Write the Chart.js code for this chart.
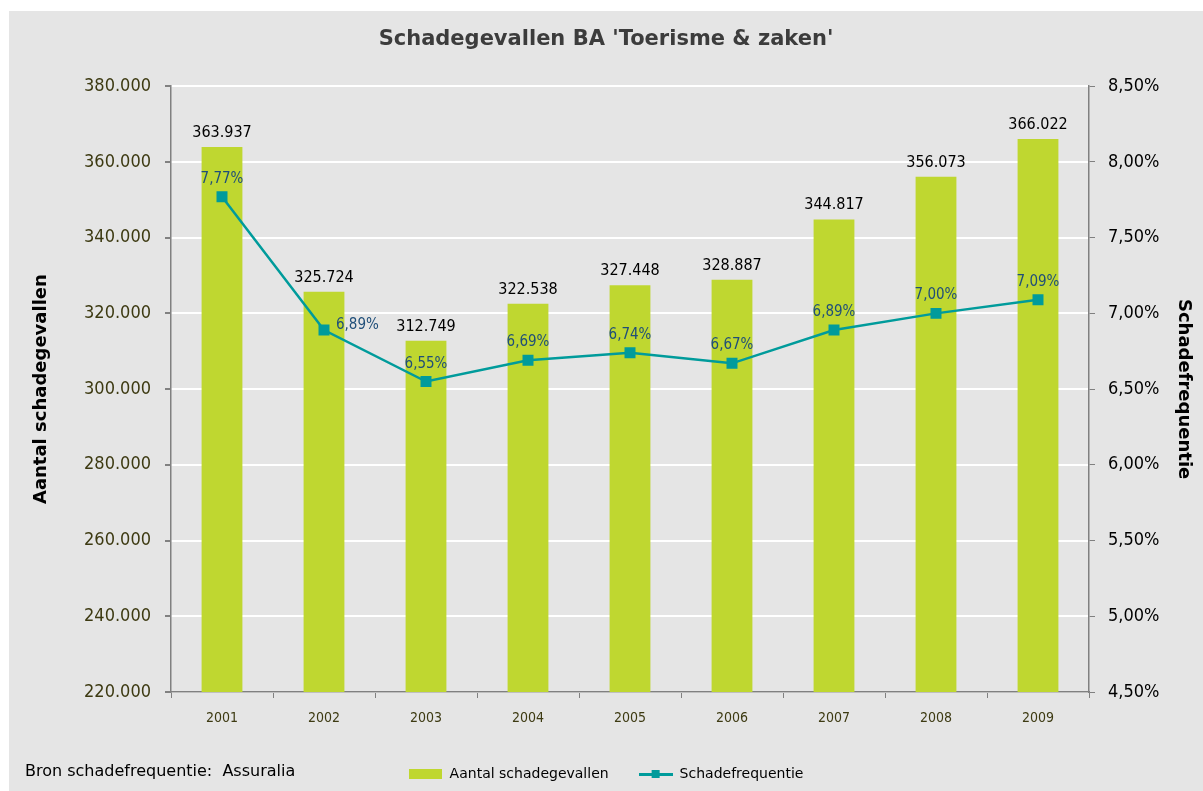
<!DOCTYPE html>
<html>
<head>
<meta charset="utf-8">
<script src="https://cdn.jsdelivr.net/npm/chart.js@4.4.1/dist/chart.umd.min.js"></script>
<style>
  body { margin: 0; background: #ffffff; }
  #wrap { position: absolute; left: 9px; top: 11px; width: 1194px; height: 780px; background: #e5e5e5; }
</style>
</head>
<body>
<div id="wrap"><canvas id="schadeChart" width="1194" height="780"></canvas></div>
<script>
// data
var jaren = ['2001', '2002', '2003', '2004', '2005', '2006', '2007', '2008', '2009'];
var aantalSchadegevallen = [363937, 325724, 312749, 322538, 327448, 328887, 344817, 356073, 366022];
var schadefrequentie = [7.77, 6.89, 6.55, 6.69, 6.74, 6.67, 6.89, 7.00, 7.09];

var fontFam = "'DejaVu Sans', sans-serif";
var smalFont = "'DejaVu Sans Condensed', 'DejaVu Sans', sans-serif";
var groen = '#bfd730';
var teal = '#009b9b';

// number helpers (dutch notation)
function fmtAantal(v) {
  return v.toLocaleString('nl-BE', { useGrouping: true });
}
function fmtPct(v) {
  return v.toFixed(2).replace('.', ',') + '%';
}

// small images for the legend
function legendBox() {
  var c = document.createElement('canvas');
  c.width = 33; c.height = 10;
  var x = c.getContext('2d');
  x.fillStyle = groen;
  x.fillRect(0, 0, 33, 10);
  return c;
}
function legendLine() {
  var c = document.createElement('canvas');
  c.width = 34; c.height = 10;
  var x = c.getContext('2d');
  x.fillStyle = teal;
  x.fillRect(0, 4, 34, 3);
  x.fillRect(13, 1, 8, 8);
  return c;
}

// draws the value labels on top of the bars and at the points
var labelPlugin = {
  id: 'waardeLabels',
  afterDatasetsDraw: function(chart) {
    var ctx = chart.ctx;
    ctx.save();
    // bars = dataset 1
    var barMeta = chart.getDatasetMeta(1);
    ctx.font = '16px ' + smalFont;
    ctx.fillStyle = '#000000';
    ctx.textAlign = 'center';
    ctx.textBaseline = 'alphabetic';
    barMeta.data.forEach(function(el, i) {
      ctx.fillText(fmtAantal(aantalSchadegevallen[i]), el.x, el.y - 10);
    });
    // line = dataset 0
    var lineMeta = chart.getDatasetMeta(0);
    ctx.font = '15px ' + smalFont;
    ctx.fillStyle = '#1f4e79';
    lineMeta.data.forEach(function(el, i) {
      if (i === 1) {
        ctx.textAlign = 'left';
        ctx.fillText(fmtPct(schadefrequentie[i]), el.x + 12, el.y - 1);
      } else {
        ctx.textAlign = 'center';
        ctx.fillText(fmtPct(schadefrequentie[i]), el.x, el.y - 14);
      }
    });
    // source note bottom left
    ctx.fillStyle = '#000000';
    ctx.textAlign = 'left';
    ctx.textBaseline = 'middle';
    ctx.font = '16px ' + fontFam;
    ctx.fillText('Bron schadefrequentie:  Assuralia', 16, 761);
    ctx.restore();
  }
};

var ctx = document.getElementById('schadeChart');

var schadeChart = new Chart(ctx, {
  data: {
    labels: jaren,
    datasets: [{
      type: 'line',
      label: 'Schadefrequentie',
      data: schadefrequentie,
      yAxisID: 'y1',
      borderColor: teal,
      backgroundColor: teal,
      borderWidth: 2.5,
      pointStyle: 'rect',
      pointRadius: 6,
      pointHoverRadius: 6,
      tension: 0,
      order: 1
    }, {
      type: 'bar',
      label: 'Aantal schadegevallen',
      data: aantalSchadegevallen,
      yAxisID: 'y',
      backgroundColor: groen,
      barPercentage: 0.40,
      categoryPercentage: 1,
      order: 2
    }]
  },
  options: {
    responsive: false,
    animation: false,
    plugins: {
      title: {
        display: true,
        text: "Schadegevallen BA 'Toerisme & zaken'",
        color: '#3c3c3c',
        font: { family: fontFam, size: 21, weight: 'bold' },
        padding: { top: 16, bottom: 34 }
      },
      legend: {
        position: 'bottom',
        labels: {
          color: '#000000',
          font: { family: fontFam, size: 14 },
          usePointStyle: true,
          pointStyleWidth: 34,
          padding: 30,
          generateLabels: function(chart) {
            return [{
              text: 'Aantal schadegevallen', pointStyle: legendBox(), datasetIndex: 1,
              fillStyle: groen, strokeStyle: groen, lineWidth: 0, hidden: false
            }, {
              text: 'Schadefrequentie', pointStyle: legendLine(), datasetIndex: 0,
              fillStyle: teal, strokeStyle: teal, lineWidth: 0, hidden: false
            }];
          }
        }
      },
      tooltip: { enabled: false }
    },
    scales: {
      x: {
        grid: { offset: true, drawOnChartArea: false, tickColor: '#808080', tickLength: 6 },
        border: { color: '#808080', width: 1.5 },
        ticks: { color: '#3d3a12', font: { family: smalFont, size: 14 }, padding: 12 },
        afterFit: function(scale) { scale.height = 45; }
      },
      y: {
        position: 'left',
        min: 220000,
        max: 380000,
        ticks: {
          stepSize: 20000,
          color: '#3d3a12',
          font: { family: smalFont, size: 18 },
          padding: 14,
          callback: function(v) { return fmtAantal(v); }
        },
        grid: { color: '#ffffff', lineWidth: 2, tickColor: '#808080', tickLength: 6 },
        border: { color: '#808080', width: 1.5 },
        title: {
          display: true,
          text: 'Aantal schadegevallen',
          color: '#000000',
          font: { family: fontFam, size: 18, weight: 'bold' },
          padding: { top: 22, bottom: 0 }
        },
        afterFit: function(scale) { scale.width = 162; }
      },
      y1: {
        position: 'right',
        min: 4.5,
        max: 8.5,
        ticks: {
          stepSize: 0.5,
          color: '#000000',
          font: { family: smalFont, size: 18 },
          padding: 13,
          callback: function(v) { return fmtPct(v); }
        },
        grid: { drawOnChartArea: false, tickColor: '#808080', tickLength: 6 },
        border: { color: '#808080', width: 1.5 },
        title: {
          display: true,
          text: 'Schadefrequentie',
          color: '#000000',
          font: { family: fontFam, size: 18, weight: 'bold' },
          padding: { top: 9, bottom: 0 }
        },
        afterFit: function(scale) { scale.width = 114; }
      }
    }
  },
  plugins: [labelPlugin]
});
</script>
</body>
</html>
